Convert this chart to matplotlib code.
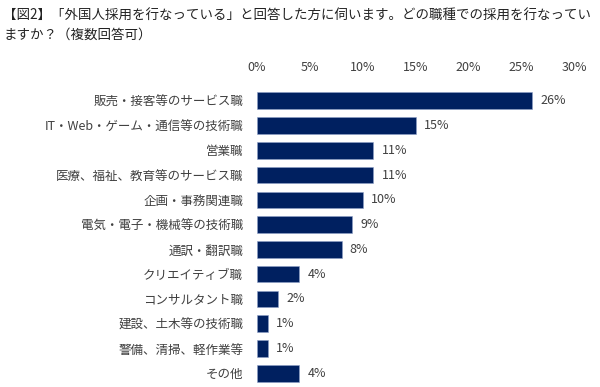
import matplotlib
matplotlib.use("Agg")
import matplotlib.pyplot as plt

plt.rcParams['font.family'] = ['Noto Sans CJK JP', 'DejaVu Sans']

categories = [
    "販売・接客等のサービス職",
    "IT・Web・ゲーム・通信等の技術職",
    "営業職",
    "医療、福祉、教育等のサービス職",
    "企画・事務関連職",
    "電気・電子・機械等の技術職",
    "通訳・翻訳職",
    "クリエイティブ職",
    "コンサルタント職",
    "建設、土木等の技術職",
    "警備、清掃、軽作業等",
    "その他",
]
values = [26, 15, 11, 11, 10, 9, 8, 4, 2, 1, 1, 4]
labels = ["26%", "15%", "11%", "11%", "10%", "9%", "8%", "4%", "2%", "1%", "1%", "4%"]
xticks = [0, 5, 10, 15, 20, 25, 30]
xticklabels = ["0%", "5%", "10%", "15%", "20%", "25%", "30%"]
title_lines = [
    "【図2】「外国人採用を行なっている」と回答した方に伺います。どの職種での採用を行なってい",
    "ますか？（複数回答可）",
]

W, H = 600, 387
fig = plt.figure(figsize=(W / 100, H / 100), dpi=100)
ax = fig.add_axes([257 / W, 1 - 385.7 / H, (574 - 257) / W, (385.7 - 88.3) / H])

y = list(range(len(categories)))
ax.barh(y, values, height=0.67, color="#002060", edgecolor="#8EA0C8", linewidth=0.4)
for yi, v, lab in zip(y, values, labels):
    ax.annotate(lab, (v, yi), xytext=(6, 0), textcoords="offset points",
                ha="left", va="center", fontsize=9, color="#404040")

ax.set_xlim(0, 30)
ax.set_ylim(len(categories) - 0.5, -0.5)
ax.set_xticks(xticks)
ax.set_xticklabels(xticklabels, fontsize=9, color="#404040")
ax.xaxis.tick_top()
ax.tick_params(axis="x", length=0, pad=10)
ax.set_yticks(y)
ax.set_yticklabels(categories, fontsize=9, color="#404040")
ax.tick_params(axis="y", length=0, pad=10)
for s in ax.spines.values():
    s.set_visible(False)

fig.text(3 / W, 1 - 16 / H, title_lines[0], fontsize=9.7, ha="left", va="center", color="#222222")
fig.text(3 / W, 1 - 35 / H, title_lines[1], fontsize=9.7, ha="left", va="center", color="#222222")

fig.savefig("out.png", dpi=100)
